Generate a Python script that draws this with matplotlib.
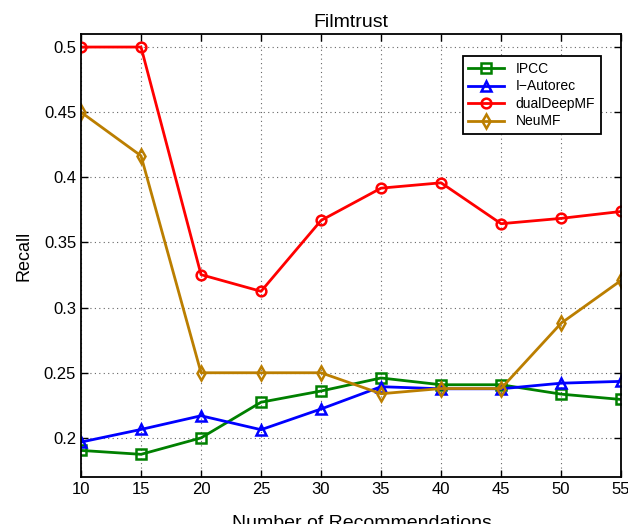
import matplotlib
matplotlib.use('Agg')
import numpy as np
import matplotlib.pyplot as plt

n_rec = [10, 15, 20, 25, 30, 35, 40, 45, 50, 55]
ipcc = [0.1904, 0.1874, 0.2000, 0.2274, 0.2360, 0.2460, 0.2408, 0.2408, 0.2336, 0.2295]
i_autorec = [0.1968, 0.2065, 0.2170, 0.2063, 0.2222, 0.2393, 0.2377, 0.2377, 0.2420, 0.2434]
dual_deep_mf = [0.5000, 0.5000, 0.3253, 0.3125, 0.3669, 0.3917, 0.3958, 0.3644, 0.3685, 0.3738]
neu_mf = [0.4500, 0.4165, 0.2500, 0.2500, 0.2500, 0.2339, 0.2379, 0.2379, 0.2880, 0.3209]

y_ticks = [0.2, 0.25, 0.3, 0.35, 0.4, 0.45, 0.5]
y_tick_labels = ['0.2', '0.25', '0.3', '0.35', '0.4', '0.45', '0.5']

plt.rcParams['font.family'] = ['Liberation Sans', 'DejaVu Sans']

fig = plt.figure(figsize=(6.28, 5.24), dpi=100)
ax = fig.add_axes([0.129, 0.0897, 0.860, 0.8454])

style = dict(linewidth=2, markersize=7, markerfacecolor='none', markeredgewidth=1.8)
ax.plot(n_rec, ipcc, 's-', color='#008000', label='IPCC', **style)
ax.plot(n_rec, i_autorec, '^-', color='#0000FF', label='I\u2212Autorec', **style)
ax.plot(n_rec, dual_deep_mf, 'o-', color='#FF0000', label='dualDeepMF', **style)
ax.plot(n_rec, neu_mf, 'd-', color='#BB7E00', label='NeuMF', **style)

ax.set_xlim(10, 55)
ax.set_ylim(0.17, 0.51)
ax.set_xticks(n_rec)
ax.set_yticks(y_ticks)
ax.set_yticklabels(y_tick_labels)
ax.tick_params(axis='both', direction='in', top=True, right=True, labelsize=12,
               length=5, width=1)
ax.grid(True, linestyle=(0, (1, 3)), color='#666666', linewidth=0.8)
for sp in ax.spines.values():
    sp.set_linewidth(1.3)

ax.set_title('Filmtrust', fontsize=14, pad=5)
ax.set_xlabel('Number of Recommendations', fontsize=14, labelpad=13)
ax.xaxis.set_label_coords(0.52, -0.085)
ax.set_ylabel('Recall', fontsize=13, labelpad=8)

leg = ax.legend(loc='upper right', bbox_to_anchor=(0.975, 0.965), fontsize=10,
                fancybox=False, framealpha=1, edgecolor='black',
                handlelength=2.6, borderpad=0.4, labelspacing=0.25)
leg.get_frame().set_linewidth(1.3)

fig.savefig('out.png', dpi=100)
